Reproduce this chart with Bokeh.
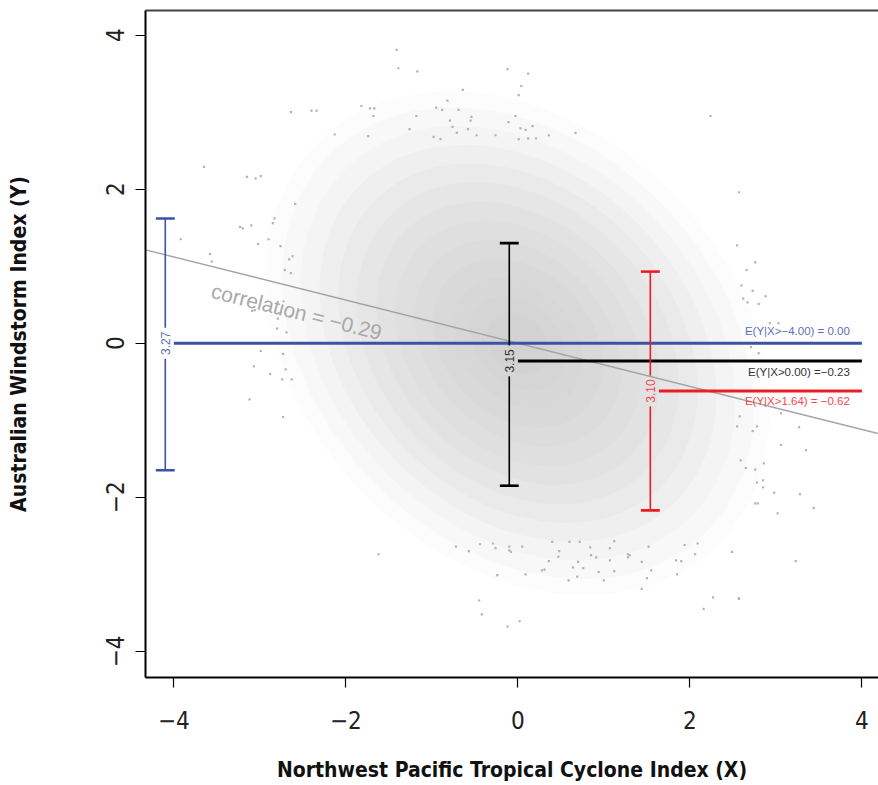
import math
from bokeh.plotting import figure
from bokeh.models import Range1d, FixedTicker, LinearAxis
from bokeh.core.properties import value
from bokeh.embed import file_html
from bokeh.resources import INLINE

# ---------------- data ----------------
x_ticks = [-4, -2, 0, 2, 4]
y_ticks = [-4, -2, 0, 2, 4]
tick_labels = ["\u22124", "\u22122", "0", "2", "4"]

x_title = "Northwest Pacific Tropical Cyclone Index (X)"
y_title = "Australian Windstorm Index (Y)"

# isolated points on the rim of the cloud
outer_x = [-1.41, -1.39, -1.17, -0.12, 0.12, 0.04, 0.01, -0.64, -0.82, -2.64, -2.40, -2.34, -1.82, -1.72,
           -1.67, -1.68, -1.18, -0.95, -0.88, -0.69, -0.54, -0.79, -0.55, -0.03, -0.11, 2.24, -2.13, -1.74,
           -1.26, -0.76, -0.58, -0.71, -0.48, -0.26, 0.03, 0.09, 0.17, 0.36, 0.67, -0.98, -0.90, 0.01, 0.12, 0.21,
           -1.62, -0.72, -0.44, -0.29, -0.26, -0.57, -0.10, -0.10, -0.08, 0.05, 0.40, 0.60, 0.72, 0.84, 1.07,
           1.12, 1.52, 1.94, 2.09, 2.49, 2.06, 1.84, 1.90, 1.85, 1.44, 1.55, 1.50, 1.44, 1.28, 1.30, 1.28, 1.07,
           1.12, 0.94, 1.00, 0.85, 0.91, 0.48, 0.47, 0.36, 0.70, 0.64, 0.76, 0.69, 0.59, 0.28, 0.31, 0.09, -0.24,
           -0.45, -0.42, -0.12, 0.02, 2.27, 2.16, 2.57,
           -3.65, -3.15, -3.05, -2.99, -2.59, -2.83, -2.85, -3.23, -3.20, -3.10, -3.92, -2.90, -3.02, -2.76,
           -3.58, -3.56, -2.66, -2.62, -2.71, -2.64, -3.06, -3.09, -2.78, -2.79, -2.65, -2.80, -2.69, -2.99,
           -2.73, -3.07, -2.88, -2.70, -2.74, -2.63, -3.12, -2.73,
           2.57, 2.55, 2.76, 2.66, 2.60, 2.73, 2.88, 2.62, 2.67, 2.80, 2.93, 3.03, 2.71, 2.80, 3.06, 3.27, 2.78,
           2.73, 2.58, 2.55, 3.06, 3.35, 2.59, 2.86, 2.65, 2.76, 2.78, 2.85, 2.85, 2.98, 3.28, 2.76, 2.79, 3.02,
           3.44, 3.23, 2.57]
outer_y = [3.81, 3.57, 3.53, 3.56, 3.50, 3.34, 3.22, 3.29, 3.15, 3.00, 3.02, 3.02, 3.08, 3.05,
           3.05, 2.95, 2.95, 3.06, 3.03, 3.03, 2.94, 2.89, 2.89, 2.95, 2.87, 2.95, 2.71, 2.69,
           2.78, 2.81, 2.78, 2.73, 2.70, 2.70, 2.79, 2.77, 2.82, 2.70, 2.73, 2.68, 2.65, 2.65, 2.66, 2.66,
           -2.74, -2.64, -2.61, -2.60, -2.66, -2.70, -2.64, -2.69, -2.71, -2.64, -2.58, -2.58, -2.58, -2.65, -2.66,
           -2.57, -2.64, -2.62, -2.60, -2.71, -2.74, -2.82, -2.83, -3.00, -2.84, -2.95, -3.05, -3.19, -2.74, -2.75,
           -2.78, -2.82, -2.96, -2.97, -3.08, -2.75, -2.78, -2.70, -2.77, -2.83, -2.84, -2.91, -2.92, -3.03, -3.08,
           -2.95, -2.94, -3.00, -3.01, -3.34, -3.52, -3.68, -3.61, -3.30, -3.45, -3.32,
           2.29, 2.16, 2.14, 2.17, 1.81, 1.62, 1.56, 1.51, 1.49, 1.53, 1.35, 1.35, 1.29, 1.26,
           1.16, 1.06, 1.09, 1.13, 0.95, 0.91, 0.43, 0.42, 0.39, 0.32, 0.35, 0.19, 0.14, -0.10,
           -0.14, -0.30, -0.40, -0.34, -0.47, -0.47, -0.73, -0.96,
           1.96, 1.27, 1.05, 0.95, 0.75, 0.68, 0.61, 0.58, 0.53, 0.51, 0.26, 0.26, -0.05, -0.13, -0.91, -1.09, -1.08,
           -1.14, -0.95, -1.08, -1.32, -1.39, -1.52, -1.56, -1.62, -1.64, -1.81, -1.78, -1.87, -1.94, -1.96, -2.08,
           -2.08, -2.21, -2.14, -2.83, -3.31]

# the dense body of the cloud: nested density levels (full axes, in index units)
cloud_major = [6.6, 6.2, 5.7, 5.2, 4.7, 4.2, 3.7, 3.2, 2.7, 2.2, 1.7, 1.25, 0.8]
cloud_minor = [5.6, 5.2, 4.8, 4.4, 4.0, 3.6, 3.15, 2.75, 2.3, 1.9, 1.45, 1.05, 0.7]
cloud_alpha = [0.035, 0.045, 0.05, 0.055, 0.055, 0.055, 0.055, 0.05, 0.05, 0.045, 0.04, 0.035, 0.03]

thresholds = [-4.00, 0.00, 1.64]
cond_means = [0.00, -0.23, -0.62]
band_top = [1.62, 1.30, 0.93]
band_bottom = [-1.65, -1.85, -2.17]
band_labels = ["3.27", "3.15", "3.10"]
mean_labels = ["E(Y|X>\u22124.00) = 0.00", "E(Y|X>0.00) =\u22120.23", "E(Y|X>1.64) = \u22120.62"]
series_colors = ["#3a53a4", "#000000", "#ed1c24"]
label_colors = ["#5a6fb6", "#333333", "#f0484e"]
line_end = 4.0

reg_slope = -0.28
reg_intercept = 0.0
corr_text = "correlation = \u22120.29"

# ---------------- figure ----------------
W, H = 878, 785
LEFT, TOP, BOTTOM = 145, 10, 108
x0, x1 = -4.33, -4.33 + (W - LEFT) / 86.0
y0, y1 = -4.34, 4.32

p = figure(width=W, height=H, x_range=Range1d(x0, x1), y_range=Range1d(y0, y1),
           output_backend="svg", toolbar_location=None,
           min_border_left=LEFT, min_border_right=0, min_border_top=TOP, min_border_bottom=BOTTOM)
p.grid.visible = False
p.outline_line_color = None
p.background_fill_color = "white"
p.border_fill_color = "white"

TICK_FONT = "'DejaVu Sans Condensed', 'Liberation Sans Narrow', 'Roboto Condensed', Roboto, sans-serif"
for ax, ticks in ((p.xaxis[0], x_ticks), (p.yaxis[0], y_ticks)):
    ax.ticker = FixedTicker(ticks=ticks, minor_ticks=[])
    ax.major_label_overrides = {t: l for t, l in zip(ticks, tick_labels)}
    ax.major_tick_out = 10
    ax.major_tick_in = 0
    ax.minor_tick_out = 0
    ax.minor_tick_in = 0
    ax.major_tick_line_color = "black"
    ax.major_tick_line_width = 1.2
    ax.axis_line_color = "black"
    ax.axis_line_width = 2
    ax.major_label_text_font = TICK_FONT
    ax.major_label_text_font_size = "24px"
    ax.major_label_text_color = "#222222"
    ax.axis_label_text_font = TICK_FONT
    ax.axis_label_text_font_style = "bold"
    ax.axis_label_text_font_size = "21px"
    ax.axis_label_text_color = "#111111"

p.xaxis.axis_label = x_title
p.yaxis.axis_label = y_title
p.yaxis.major_label_orientation = "vertical"
p.xaxis.major_label_standoff = 23
p.yaxis.major_label_standoff = 11
p.xaxis.axis_label_standoff = 26
p.yaxis.axis_label_standoff = 73

top_axis = LinearAxis(ticker=FixedTicker(ticks=[], minor_ticks=[]), major_tick_out=0, minor_tick_out=0,
                      major_label_text_font_size="0px", axis_line_color="#444444", axis_line_width=2)
p.add_layout(top_axis, "above")

# cloud body
n = len(cloud_major)
p.ellipse(x=[0.0] * n, y=[0.0] * n, width=cloud_major, height=cloud_minor, angle=-math.pi / 4,
          fill_color="#a8a8a8", fill_alpha=cloud_alpha, line_color=None)

# rim points
p.scatter(x=outer_x, y=outer_y, marker="square", size=2.2, fill_color="#b3b3b3", line_color=None)

# regression line
p.line(x=[x0, x1], y=[reg_intercept + reg_slope * x0, reg_intercept + reg_slope * x1],
       line_color="#a3a3a3", line_width=1.4)

# correlation label along the line
px_per_x = (W - LEFT) / (x1 - x0)
px_per_y = (H - TOP - BOTTOM) / (y1 - y0)
ang = math.atan(reg_slope * px_per_y / px_per_x)
tx = -3.56
p.text(x=[tx], y=[reg_intercept + reg_slope * tx - 0.31], text=[corr_text], angle=ang,
       text_font=value("Liberation Sans"), text_font_size="21px", text_color="#a9a9a9",
       text_align="left", text_baseline="alphabetic")

# conditional means
p.segment(x0=thresholds, y0=cond_means, x1=[line_end] * 3, y1=cond_means,
          line_color=series_colors, line_width=3)

# spread bars
bar_x = [t - 0.10 for t in thresholds]
gap = 0.2
cap = 0.11
p.segment(x0=bar_x, y0=band_top, x1=bar_x, y1=[m + gap for m in cond_means],
          line_color=series_colors, line_width=1.6)
p.segment(x0=bar_x, y0=[m - gap for m in cond_means], x1=bar_x, y1=band_bottom,
          line_color=series_colors, line_width=1.6)
p.segment(x0=[b - cap for b in bar_x], y0=band_top, x1=[b + cap for b in bar_x], y1=band_top,
          line_color=series_colors, line_width=2.6)
p.segment(x0=[b - cap for b in bar_x], y0=band_bottom, x1=[b + cap for b in bar_x], y1=band_bottom,
          line_color=series_colors, line_width=2.6)
p.text(x=bar_x, y=cond_means, text=band_labels, angle=math.pi / 2,
       text_font=value("Liberation Sans"), text_font_size="12px", text_color=label_colors,
       text_align="center", text_baseline="middle")

# labels of the means
lab_x = line_end - 0.14
offsets = [0.16, -0.14, -0.13]
for i in range(3):
    p.text(x=[lab_x], y=[cond_means[i] + offsets[i]], text=[mean_labels[i]],
           text_font=value("Liberation Sans"), text_font_size="11.5px", text_color=label_colors[i],
           text_align="right", text_baseline="middle")

open("out.html", "w").write(file_html(p, INLINE))
